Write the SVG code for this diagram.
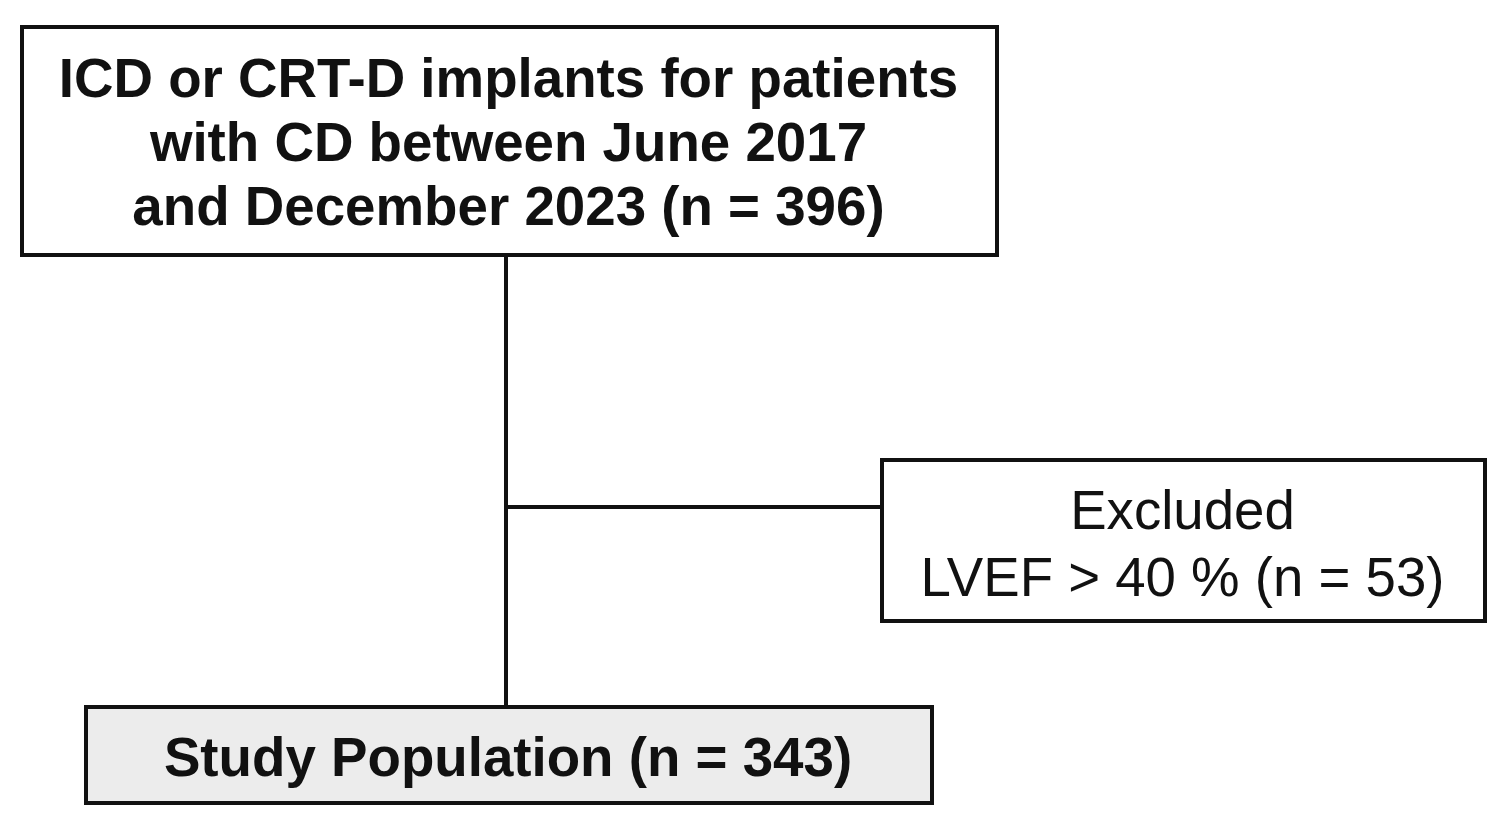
<svg xmlns="http://www.w3.org/2000/svg" width="1502" height="822" viewBox="0 0 1502 822">
<style>
.box{fill:#ffffff;stroke:#111111;stroke-width:4}
.shaded{fill:#ececec;stroke:#111111;stroke-width:4}
.conn{stroke:#111111;stroke-width:4;fill:none}
.b{font-family:"Liberation Sans",Arial,sans-serif;font-weight:bold;font-size:54.7px;fill:#111111;text-anchor:middle}
.r{font-family:"Liberation Sans",Arial,sans-serif;font-size:54.6px;fill:#111111;text-anchor:middle}
</style>
<rect x="0" y="0" width="1502" height="822" fill="#ffffff"/>
<g id="connectors">
<line class="conn" x1="506" y1="255" x2="506" y2="707"/>
<line class="conn" x1="506" y1="507" x2="882" y2="507"/>
</g>
<g id="node-source">
<rect class="box" x="22" y="27" width="975" height="228"/>
<text class="b" x="508.5" y="97">ICD or CRT-D implants for patients</text>
<text class="b" x="508.5" y="161">with CD between June 2017</text>
<text class="b" x="508.5" y="225">and December 2023 (n = 396)</text>
</g>
<g id="node-excluded">
<rect class="box" x="882" y="460" width="603" height="161"/>
<text class="r" x="1182.5" y="529">Excluded</text>
<text class="r" x="1182.5" y="596">LVEF &gt; 40 % (n = 53)</text>
</g>
<g id="node-study">
<rect class="shaded" x="86" y="707" width="846" height="96"/>
<text class="b" x="508" y="776">Study Population (n = 343)</text>
</g>
</svg>
